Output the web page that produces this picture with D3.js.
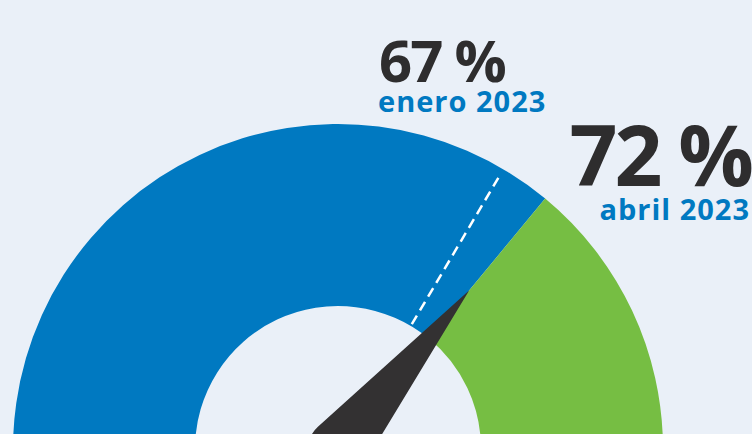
<!DOCTYPE html>
<html>
<head>
<meta charset="utf-8">
<script src="https://cdn.jsdelivr.net/npm/d3@7"></script>
<style>
    html, body { margin: 0; padding: 0; background: #eaf0f8; overflow: hidden; }
    #gauge-area text { font-family: "Open Sans", "Noto Sans", sans-serif; font-weight: 700; }
</style>
</head>
<body>
<div id="gauge-area"></div>
<script>
// gauge data
var gaugeDomain = [0, 100];
var readingMonths = ["enero 2023", "abril 2023"];
var readingValues = [67, 72];

Gauge = function(_parentElement, _config) {
    this.parentElement = _parentElement;
    this.config = _config;

    this.initVis();
}

Gauge.prototype.initVis = function() {
    var vis = this;

    vis.width = 752;
    vis.height = 434;

    vis.svg = d3.select("#" + vis.parentElement).append("svg")
        .attr("width", vis.width)
        .attr("height", vis.height);

    vis.svg.append("rect")
        .attr("width", vis.width)
        .attr("height", vis.height)
        .attr("fill", "#eaf0f8");

    // gauge centre sits just below the visible area
    vis.g = vis.svg.append("g")
        .attr("transform", "translate(338,449)");

    vis.outerRadius = 325;
    vis.innerRadius = 143;

    // value -> angle (radians, 0 = straight up)
    vis.angle = d3.scaleLinear()
        .domain(gaugeDomain)
        .range([-Math.PI / 2, Math.PI / 2]);

    vis.arc = d3.arc()
        .innerRadius(vis.innerRadius)
        .outerRadius(vis.outerRadius);

    vis.wrangleData();
}

Gauge.prototype.wrangleData = function() {
    var vis = this;

    vis.previous = { month: readingMonths[0], value: readingValues[0] };
    vis.current = { month: readingMonths[1], value: readingValues[1] };

    vis.bands = [
        { from: gaugeDomain[0], to: vis.current.value, fill: "#0079c1" },
        { from: vis.current.value, to: gaugeDomain[1], fill: "#76be43" }
    ];

    vis.updateVis();
}

Gauge.prototype.updateVis = function() {
    var vis = this;

    // the two bands
    vis.g.selectAll("path.band")
        .data(vis.bands)
        .enter()
        .append("path")
        .attr("class", "band")
        .attr("fill", function(d) { return d.fill; })
        .attr("d", function(d) {
            return vis.arc({ startAngle: vis.angle(d.from), endAngle: vis.angle(d.to) });
        });

    // dashed marker for the previous reading
    var a = vis.angle(vis.previous.value);
    vis.g.append("line")
        .attr("x1", (vis.innerRadius + 2) * Math.sin(a))
        .attr("y1", -(vis.innerRadius + 2) * Math.cos(a))
        .attr("x2", (vis.outerRadius - 4) * Math.sin(a))
        .attr("y2", -(vis.outerRadius - 4) * Math.cos(a))
        .attr("stroke", "#ffffff")
        .attr("stroke-width", 2.5)
        .attr("stroke-dasharray", "10,6");

    // needle: round hub tapering to a point
    var L = 206, r = 30;
    var tx = r * Math.sqrt(1 - (r / L) * (r / L)), ty = -r * r / L;
    vis.g.append("path")
        .attr("fill", "#333132")
        .attr("transform", "rotate(" + (vis.angle(vis.current.value) * 180 / Math.PI) + ")")
        .attr("d", "M0," + (-L) + "L" + tx + "," + ty +
            "A" + r + "," + r + " 0 1 1 " + (-tx) + "," + ty + "Z");

    // labels
    var fmt = function(v) { return v + " %"; };

    vis.svg.append("text")
        .attr("x", 379).attr("y", 82)
        .attr("fill", "#2e2d2e")
        .style("font-size", "58px")
        .style("letter-spacing", "-2px")
        .text(fmt(vis.previous.value));
    vis.svg.append("text")
        .attr("x", 378).attr("y", 112)
        .attr("fill", "#0079c1")
        .style("font-size", "29px")
        .style("letter-spacing", "1px")
        .text(vis.previous.month);

    vis.svg.append("text")
        .attr("x", 751).attr("y", 186)
        .attr("text-anchor", "end")
        .attr("fill", "#2e2d2e")
        .style("font-size", "84px")
        .style("letter-spacing", "-3px")
        .text(fmt(vis.current.value));
    vis.svg.append("text")
        .attr("x", 750).attr("y", 220)
        .attr("text-anchor", "end")
        .attr("fill", "#0079c1")
        .style("font-size", "29px")
        .style("letter-spacing", "1px")
        .text(vis.current.month);
}

new Gauge("gauge-area", {});
</script>
</body>
</html>
